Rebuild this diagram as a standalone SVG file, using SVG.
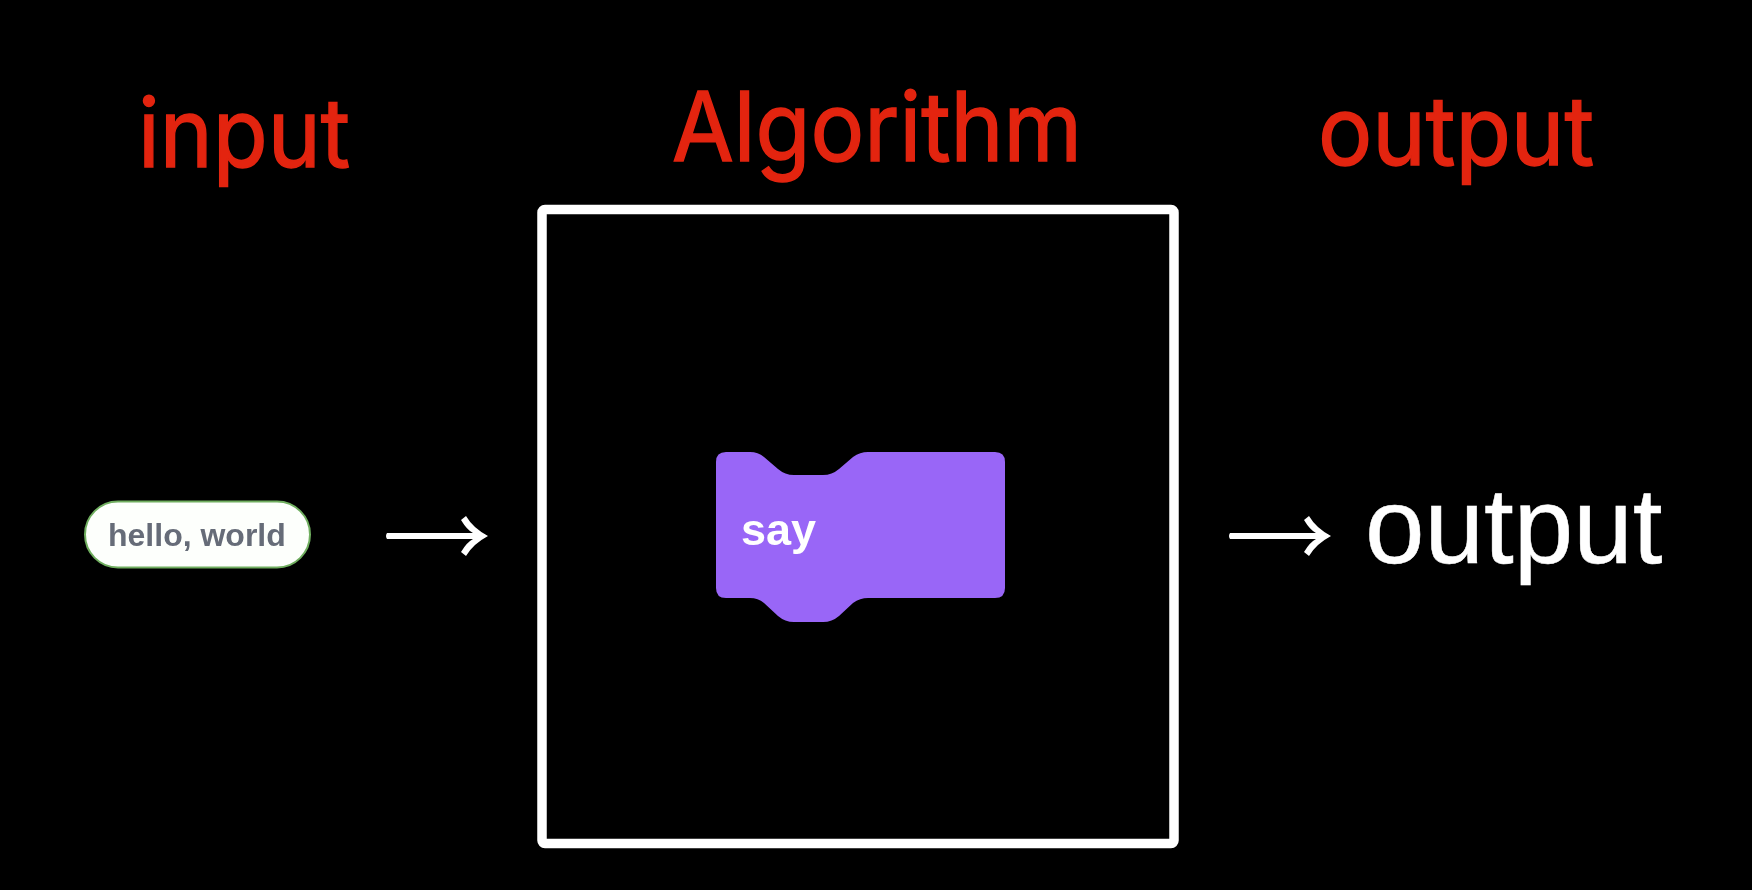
<svg xmlns="http://www.w3.org/2000/svg" width="1752" height="890" viewBox="0 0 1752 890">
  <defs>
    <style>
      text { font-family: "Liberation Sans", Arial, sans-serif; }
      .title { font-family: Inter, "Liberation Sans", sans-serif; fill: #e3240f; stroke: #e3240f; stroke-width: 1.5px; font-size: 96px; }
    </style>
    <filter id="soft" x="-5%" y="-5%" width="110%" height="110%"><feGaussianBlur stdDeviation="0.7"/></filter>
    <path id="arrow" fill="#fff" d="M0 -3H86Q80 -6 74 -16L79 -20Q86 -8 101 0Q86 8 79 20L74 16Q80 6 86 3H0Q-2 0 0 -3Z"/>
  </defs>
  <rect width="1752" height="890" fill="#000"/>
  <g id="label-input"><text class="title" x="138" y="167" textLength="212" lengthAdjust="spacingAndGlyphs">input</text></g>
  <g id="label-algorithm"><text class="title" x="672" y="161" textLength="410" lengthAdjust="spacingAndGlyphs">Algorithm</text></g>
  <g id="label-output"><text class="title" x="1318" y="165" textLength="276" lengthAdjust="spacingAndGlyphs">output</text></g>
  <g id="node-input" filter="url(#soft)">
    <rect x="85" y="501.500" width="225" height="66" rx="33" fill="#fdfffc" stroke="#6fae5f" stroke-width="2"/>
    <text x="108" y="546" font-size="32" font-weight="700" fill="#666c78">hello, world</text>
  </g>
  <g id="node-algorithm">
    <rect x="542" y="209.500" width="632" height="634" rx="3" fill="none" stroke="#fff" stroke-width="9.500"/>
  </g>
  <g id="node-say" filter="url(#soft)">
    <path d="M726 452H750Q758 452 764 457L778 469Q785 475 794 475H823Q832 475 839 469L853 457Q860 452 868 452H995Q1005 452 1005 462V588Q1005 598 995 598H868Q860 598 853 603L839 616Q832 622 823 622H794Q785 622 778 616L764 603Q758 598 750 598H726Q716 598 716 588V462Q716 452 726 452Z" fill="#9966f7"/>
    <text x="741" y="545" font-size="45" font-weight="700" fill="#fff">say</text>
  </g>
  <g id="node-output"><text x="1365" y="563" font-size="107" fill="#fff" stroke="#fff" stroke-width="0.500">output</text></g>
  <g id="connectors" filter="url(#soft)">
    <use href="#arrow" x="387" y="536"/>
    <use href="#arrow" x="1230" y="536"/>
  </g>
</svg>
